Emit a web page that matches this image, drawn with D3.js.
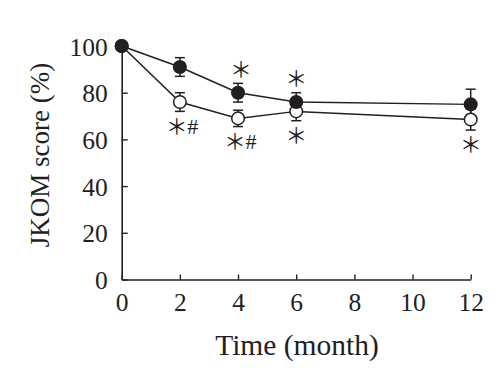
<!DOCTYPE html>
<html><head><meta charset="utf-8">
<script src="https://cdn.jsdelivr.net/npm/d3@7"></script>
<style>body{margin:0;background:#fff}svg{display:block}text{font-family:"Liberation Serif","Times New Roman",serif;fill:#231f20}</style>
</head><body><svg id="c" width="499" height="368"></svg>
<script>
const months = [0, 2, 4, 6, 12];
const filledMean = [100, 91, 80, 76, 75];
const filledErr = [0, 4, 4, 4, 6.5];
const openMean = [100, 76, 69, 72, 68.5];
const openErr = [0, 4, 3.5, 4, 4.5];
const xTicks = [0, 2, 4, 6, 8, 10, 12];
const yTicks = [0, 20, 40, 60, 80, 100];
const annotations = [
  {month: 4, series: "filled", side: "above", label: "*"},
  {month: 6, series: "filled", side: "above", label: "*"},
  {month: 2, series: "open", side: "below", label: "*#"},
  {month: 4, series: "open", side: "below", label: "*#"},
  {month: 6, series: "open", side: "below", label: "*"},
  {month: 12, series: "open", side: "below", label: "*"}
];

const svg = d3.select("#c");
const x = d3.scaleLinear().domain([0, 12]).range([121.7, 470.7]);
const y = d3.scaleLinear().domain([0, 100]).range([279.5, 46]);
const ink = "#231f20";

const xAxis = svg.append("g").attr("transform", `translate(0,${y(0)})`)
  .call(d3.axisBottom(x).tickValues(xTicks).tickSizeInner(-5).tickSizeOuter(0).tickPadding(13));
const yAxis = svg.append("g").attr("transform", `translate(${x(0)},0)`)
  .call(d3.axisLeft(y).tickValues(yTicks).tickSizeInner(-6).tickSizeOuter(0).tickPadding(14));
[xAxis, yAxis].forEach(g => {
  g.select(".domain").attr("stroke", ink).attr("stroke-width", 1.6);
  g.selectAll(".tick line").attr("stroke", ink).attr("stroke-width", 1.4);
  g.selectAll(".tick text").attr("font-size", 25.5).attr("fill", ink).style("font-family", '"Liberation Serif",serif');
});
xAxis.selectAll(".tick text").attr("dy", "0.71em");
yAxis.selectAll(".tick text").attr("dy", "0.36em");

svg.append("text").attr("x", 297).attr("y", 355).attr("text-anchor", "middle").attr("font-size", 29.5).text("Time (month)");
svg.append("text").attr("transform", "translate(49,155) rotate(-90)").attr("text-anchor", "middle").attr("font-size", 27).text("JKOM score (%)");

const series = [
  {name: "open", mean: openMean, err: openErr, fill: "#fff"},
  {name: "filled", mean: filledMean, err: filledErr, fill: ink}
];
const line = d3.line().x((d, i) => x(months[i])).y(d => y(d));
series.forEach(s => {
  svg.append("path").datum(s.mean).attr("d", line).attr("fill", "none").attr("stroke", ink).attr("stroke-width", 1.5);
});
series.forEach(s => {
  const g = svg.append("g");
  s.mean.forEach((m, i) => {
    if (s.err[i] > 0) {
      const cx = x(months[i]);
      const t = y(m + s.err[i]), b = y(m - s.err[i]);
      g.append("line").attr("x1", cx).attr("x2", cx).attr("y1", t).attr("y2", b).attr("stroke", ink).attr("stroke-width", 1.5);
      [t, b].forEach(v => g.append("line").attr("x1", cx - 5).attr("x2", cx + 5).attr("y1", v).attr("y2", v).attr("stroke", ink).attr("stroke-width", 1.5));
    }
  });
});
series.forEach(s => {
  svg.append("g").selectAll("circle").data(s.mean).join("circle")
    .attr("cx", (d, i) => x(months[i])).attr("cy", d => y(d)).attr("r", 6.3)
    .attr("fill", s.fill).attr("stroke", ink).attr("stroke-width", 1.5);
});
const lookup = {filled: series[1], open: series[0]};
annotations.forEach(a => {
  const s = lookup[a.series];
  const i = months.indexOf(a.month);
  const cy = a.side === "above" ? y(s.mean[i] + s.err[i]) - 14 : y(s.mean[i] - s.err[i]) + 14.5;
  const two = a.label.length > 1;
  const cx = x(a.month) + (a.side === "above" && a.month === 4 ? 3 : 0);
  svg.append("text").attr("x", two ? cx - 3 : cx).attr("y", cy).attr("dy", "0.35em")
    .attr("text-anchor", "middle").attr("font-size", 22)
    .style("font-family", '"Noto Sans CJK JP","Noto Sans CJK SC",sans-serif')
    .text("＊");
  if (two) {
    svg.append("text").attr("x", cx + 13).attr("y", cy).attr("dy", "0.35em")
      .attr("text-anchor", "middle").attr("font-size", 22).text("#");
  }
});
</script></body></html>
